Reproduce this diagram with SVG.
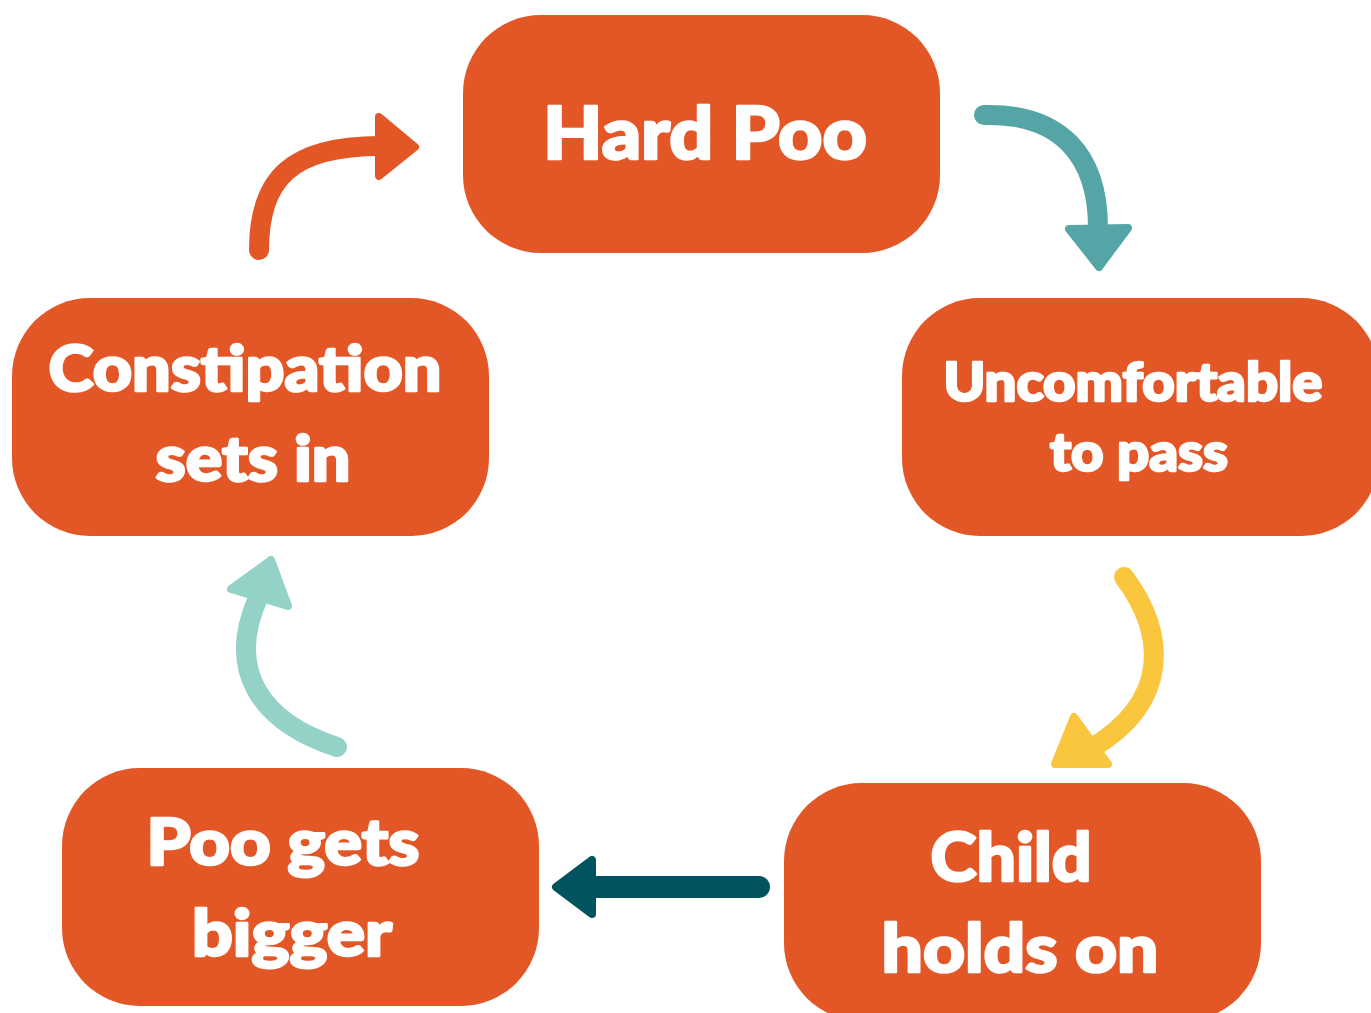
<svg xmlns="http://www.w3.org/2000/svg" width="1371" height="1013" viewBox="0 0 1371 1013">
<style>
.box{fill:#E35625}
.t{font-family:Lato,"Open Sans",sans-serif;font-weight:900;fill:#fff;stroke:#fff;stroke-width:2.5;stroke-linejoin:round;text-anchor:middle}
.sh{fill:none;stroke-linecap:round}
.hd{stroke-linejoin:round;stroke-width:8}
</style>
<rect width="1371" height="1013" fill="#fff"/>
<g id="hard-poo"><rect class="box" x="463" y="15" width="477" height="238" rx="78"/><text class="t" x="705" y="159" font-size="72" textLength="324" lengthAdjust="spacingAndGlyphs">Hard Poo</text></g>
<g id="uncomfortable"><rect class="box" x="902" y="298" width="477" height="238" rx="78"/><text class="t" x="1133" y="401" font-size="54" textLength="379" lengthAdjust="spacingAndGlyphs">Uncomfortable</text><text class="t" x="1139" y="471" font-size="54" textLength="178" lengthAdjust="spacingAndGlyphs">to pass</text></g>
<g id="constipation"><rect class="box" x="12" y="298" width="477" height="238" rx="78"/><text class="t" x="245" y="391" font-size="62" textLength="393" lengthAdjust="spacingAndGlyphs">Constipation</text><text class="t" x="253" y="481" font-size="62" textLength="195" lengthAdjust="spacingAndGlyphs">sets in</text></g>
<g id="child-holds-on"><rect class="box" x="784" y="783" width="477" height="238" rx="78"/><text class="t" x="1011" y="881" font-size="66" textLength="161" lengthAdjust="spacingAndGlyphs">Child</text><text class="t" x="1020" y="972" font-size="66" textLength="277" lengthAdjust="spacingAndGlyphs">holds on</text></g>
<g id="poo-gets-bigger"><rect class="box" x="62" y="768" width="477" height="238" rx="78"/><text class="t" x="283" y="865" font-size="64" textLength="273" lengthAdjust="spacingAndGlyphs">Poo gets</text><text class="t" x="292" y="956" font-size="64" textLength="200" lengthAdjust="spacingAndGlyphs">bigger</text></g>
<g id="connectors">
<path class="sh" d="M259,250 C259,178 292,146 380,146" stroke="#E35625" stroke-width="20"/>
<polygon class="hd" points="379,117 415,147 379,176" fill="#E35625" stroke="#E35625"/>
<path class="sh" d="M984,115 C1060,113 1098,155 1098,228" stroke="#56A5A6" stroke-width="20"/>
<polygon class="hd" points="1069,229 1128,228 1099,267" fill="#56A5A6" stroke="#56A5A6"/>
<path class="sh" d="M1124,577 C1165,632 1172,700 1092,748" stroke="#F9C63D" stroke-width="20"/>
<polygon class="hd" points="1074,717 1108,764 1055,764" fill="#F9C63D" stroke="#F9C63D"/>
<path class="sh" d="M337,747 C260,722 226,670 258,598" stroke="#94D2C7" stroke-width="20"/>
<polygon class="hd" points="231,589 271,560 288,606" fill="#94D2C7" stroke="#94D2C7"/>
<path class="sh" d="M759,887 L592,887" stroke="#01545F" stroke-width="22"/>
<polygon class="hd" points="592,860 592,914 556,887" fill="#01545F" stroke="#01545F"/>
</g>
</svg>
